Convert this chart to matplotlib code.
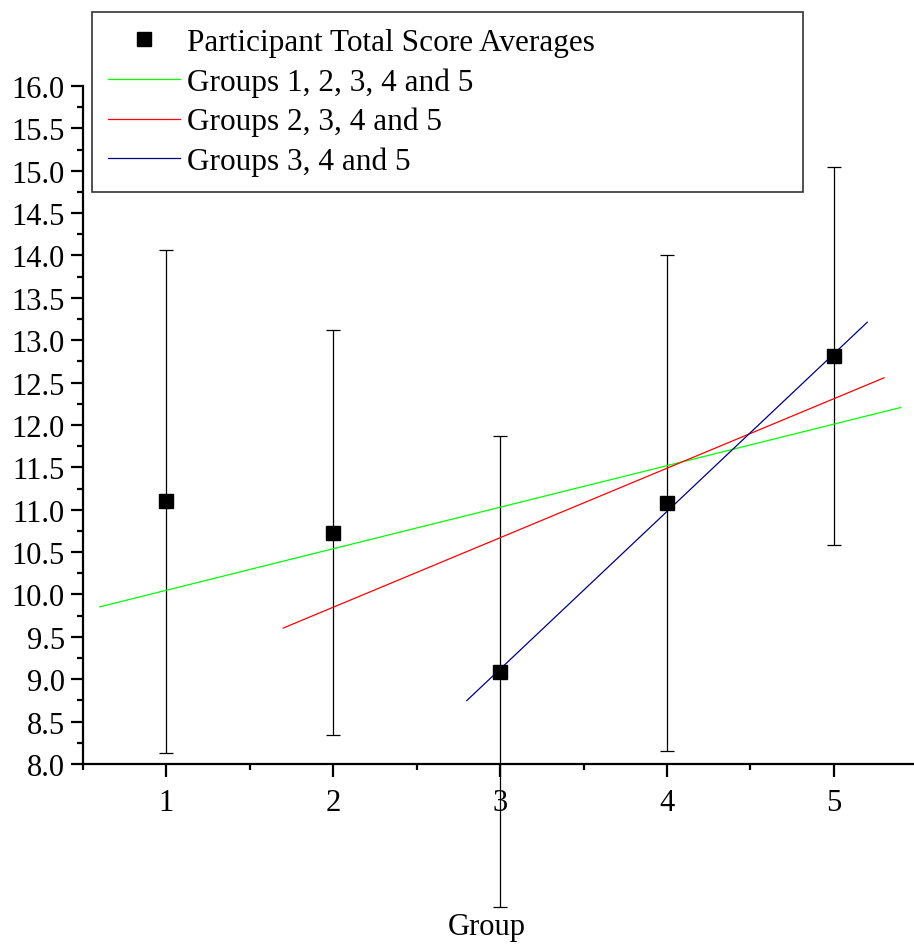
import numpy as np
import matplotlib
matplotlib.use("Agg")
import matplotlib.pyplot as plt
from matplotlib.ticker import MultipleLocator, FormatStrFormatter

plt.rcParams['font.family'] = ['Liberation Serif', 'DejaVu Serif']

# participant total score averages per group, with error bar half-widths
groups = [1, 2, 3, 4, 5]
means = [11.10, 10.73, 9.09, 11.08, 12.81]
errors = [2.97, 2.39, 2.78, 2.93, 2.23]

# fitted lines: (label, colour, x start, x end, value at x=3, slope)
fit_labels = ["Groups 1, 2, 3, 4 and 5", "Groups 2, 3, 4 and 5", "Groups 3, 4 and 5"]
fit_colors = ["#00ff00", "#ff0000", "#000080"]
fit_x_start = [0.6, 1.7, 2.8]
fit_x_end = [5.4, 5.3, 5.2]
fit_at_3 = [11.03, 10.67, 9.12]
fit_slope = [0.49, 0.82, 1.86]

fig = plt.figure(figsize=(9.14, 9.45), dpi=100)
ax = fig.add_axes([0.0908, 0.1905, 0.9092, 0.7175])

ax.errorbar(groups, means, yerr=errors, fmt='none', ecolor='black',
            elinewidth=0.9, capsize=5, capthick=0.9, clip_on=False, zorder=2)
ax.plot(groups, means, 's', color='black', markersize=10,
        label="Participant Total Score Averages", zorder=4, clip_on=False)

for lab, col, x0, x1, y3, k in zip(fit_labels, fit_colors, fit_x_start, fit_x_end, fit_at_3, fit_slope):
    xs = np.array([x0, x1])
    ax.plot(xs, y3 + k * (xs - 3), color=col, linewidth=0.9, label=lab, zorder=3)

ax.set_xlim(0.5, 5.48)
ax.set_ylim(8.0, 16.0)
ax.spines['top'].set_visible(False)
ax.spines['right'].set_visible(False)
ax.spines['left'].set_linewidth(1.6)
ax.spines['bottom'].set_linewidth(1.6)

ax.xaxis.set_major_locator(MultipleLocator(1))
ax.xaxis.set_minor_locator(MultipleLocator(0.5))
ax.yaxis.set_major_locator(MultipleLocator(0.5))
ax.yaxis.set_minor_locator(MultipleLocator(0.25))
ax.yaxis.set_major_formatter(FormatStrFormatter('%.1f'))
ax.tick_params(which='major', length=9, width=1.6, labelsize=22, pad=4)
ax.tick_params(which='minor', length=4.5, width=1.6)
ax.tick_params(axis='x', which='major', pad=8)

ax.set_xlabel("Group", fontsize=22)
ax.xaxis.set_label_coords(0.486, -0.218)

leg = fig.legend(loc='upper left', bbox_to_anchor=(0.1007, 0.80, 0.778, 0.186),
                 mode='expand', fontsize=22.5, frameon=True, fancybox=False,
                 edgecolor='black', handlelength=2.3, handletextpad=0.25,
                 labelspacing=0.33, borderpad=0.5, borderaxespad=0, markerscale=1.0)
leg.get_frame().set_linewidth(1.2)

fig.savefig("out.png", dpi=100)
